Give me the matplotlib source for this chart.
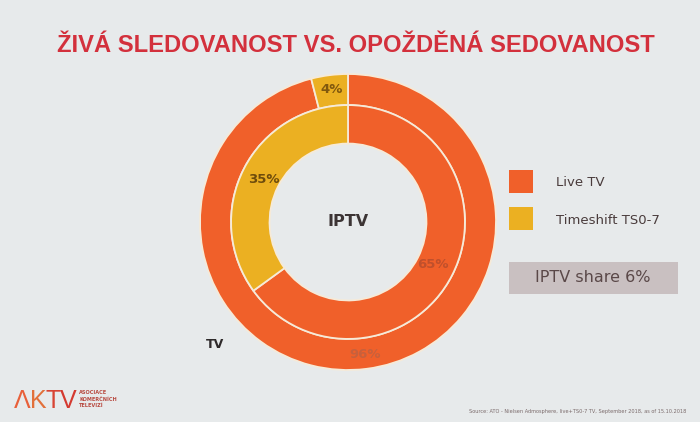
import matplotlib
matplotlib.use("Agg")
import matplotlib.pyplot as plt
from matplotlib import font_manager
from matplotlib.patches import Rectangle

# data
categories = ["Live TV", "Timeshift TS0-7"]
tv_values = [96, 4]
iptv_values = [65, 35]
iptv_share = 6

title = "ŽIVÁ SLEDOVANOST VS. OPOŽDĚNÁ SEDOVANOST"
source = "Source: ATO - Nielsen Admosphere, live+TS0-7 TV, September 2018, as of 15.10.2018"

ORANGE = "#f0602a"
YELLOW = "#ebb022"
BG = "#e7eaeb"

installed = {f.name for f in font_manager.fontManager.ttflist}
NARROW = [f for f in ["Liberation Sans Narrow", "DejaVu Sans Condensed",
                      "Liberation Sans"] if f in installed] + ["DejaVu Sans"]


def fit_width(txt, px):
    # shrink the font until the text is px wide
    fig.canvas.draw()
    r = fig.canvas.get_renderer()
    w = txt.get_window_extent(r).width
    txt.set_fontsize(txt.get_fontsize() * px / w)


fig = plt.figure(figsize=(7, 4.22), dpi=100)
fig.patch.set_facecolor(BG)

# pie axes: 300x300 px box centred at (348, 222) from top
ax = fig.add_axes([198 / 700, 1 - 372 / 422, 300 / 700, 300 / 422])
ax.axis("off")

R = 148 / 150
wedge = dict(width=R * 0.21, edgecolor="#f6ead8", linewidth=1.3)
_, _, outer_txt = ax.pie(tv_values, radius=R, colors=[ORANGE, YELLOW],
                         startangle=90, counterclock=False, wedgeprops=wedge,
                         autopct="%d%%", pctdistance=0.905)
r2 = R * 0.79
wedge2 = dict(width=r2 - R * 0.53, edgecolor="#f6ead8", linewidth=1.3)
_, _, inner_txt = ax.pie(iptv_values, radius=r2, colors=[ORANGE, YELLOW],
                         startangle=90, counterclock=False, wedgeprops=wedge2,
                         autopct="%d%%", pctdistance=0.81)
ax.set_xlim(-1, 1)
ax.set_ylim(-1, 1)
ax.set_aspect("equal")

for t, c in zip(outer_txt, ["#c8603c", "#80580e"]):
    t.set_color(c)
    t.set_fontsize(9.5)
    t.set_fontweight("bold")
for t, c in zip(inner_txt, ["#c0502c", "#6e4c0c"]):
    t.set_color(c)
    t.set_fontsize(9.5)
    t.set_fontweight("bold")

ax.text(0, 0, "IPTV", ha="center", va="center", fontsize=11.5,
        fontweight="bold", color="#3c3434")

fig.text(215 / 700, 1 - 345 / 422, "TV", ha="center", va="center",
         fontsize=9, fontweight="bold", color="#2e2a2a")

ttl = fig.text(356 / 700, 1 - 45 / 422, title, ha="center", va="center",
               fontsize=22, fontweight="bold", color="#d3303c", family=NARROW)
fit_width(ttl, 597)

# legend
for i, (name, col) in enumerate(zip(categories, [ORANGE, YELLOW])):
    y = 170 + i * 37
    fig.patches.append(Rectangle((509 / 700, 1 - (y + 23) / 422), 24 / 700, 23 / 422,
                                 transform=fig.transFigure, facecolor=col,
                                 edgecolor="none"))
    fig.text(556 / 700, 1 - (y + 13) / 422, name, ha="left", va="center",
             fontsize=9.5, color="#4a3c3c")

fig.patches.append(Rectangle((509 / 700, 1 - 294 / 422), 169 / 700, 32 / 422,
                             transform=fig.transFigure, facecolor="#c9c0c1",
                             edgecolor="none"))
fig.text(593 / 700, 1 - 278 / 422, f"IPTV share {iptv_share}%", ha="center",
         va="center", fontsize=11.5, color="#5a4848")

# logo
fig.canvas.draw()
rend = fig.canvas.get_renderer()
logo_x = 14
for ch, col in zip("ΛKTV", ["#e8603a", "#e2703a", "#d84434", "#d43a30"]):
    t = fig.text(logo_x / 700, 1 - 401 / 422, ch, ha="left", va="center",
                 fontsize=18, color=col, family=NARROW)
    logo_x += t.get_window_extent(rend).width - 1
for j, line in enumerate(["ASOCIACE", "KOMERČNÍCH", "TELEVIZÍ"]):
    fig.text((logo_x + 4) / 700, 1 - (393 + j * 6) / 422, line, ha="left",
             va="center", fontsize=3.6, fontweight="bold", color="#b84a40")

fig.text(686 / 700, 1 - 411 / 422, source, ha="right", va="center",
         fontsize=3.6, color="#7a6a6a")

fig.savefig("out.png", dpi=100, facecolor=BG)
